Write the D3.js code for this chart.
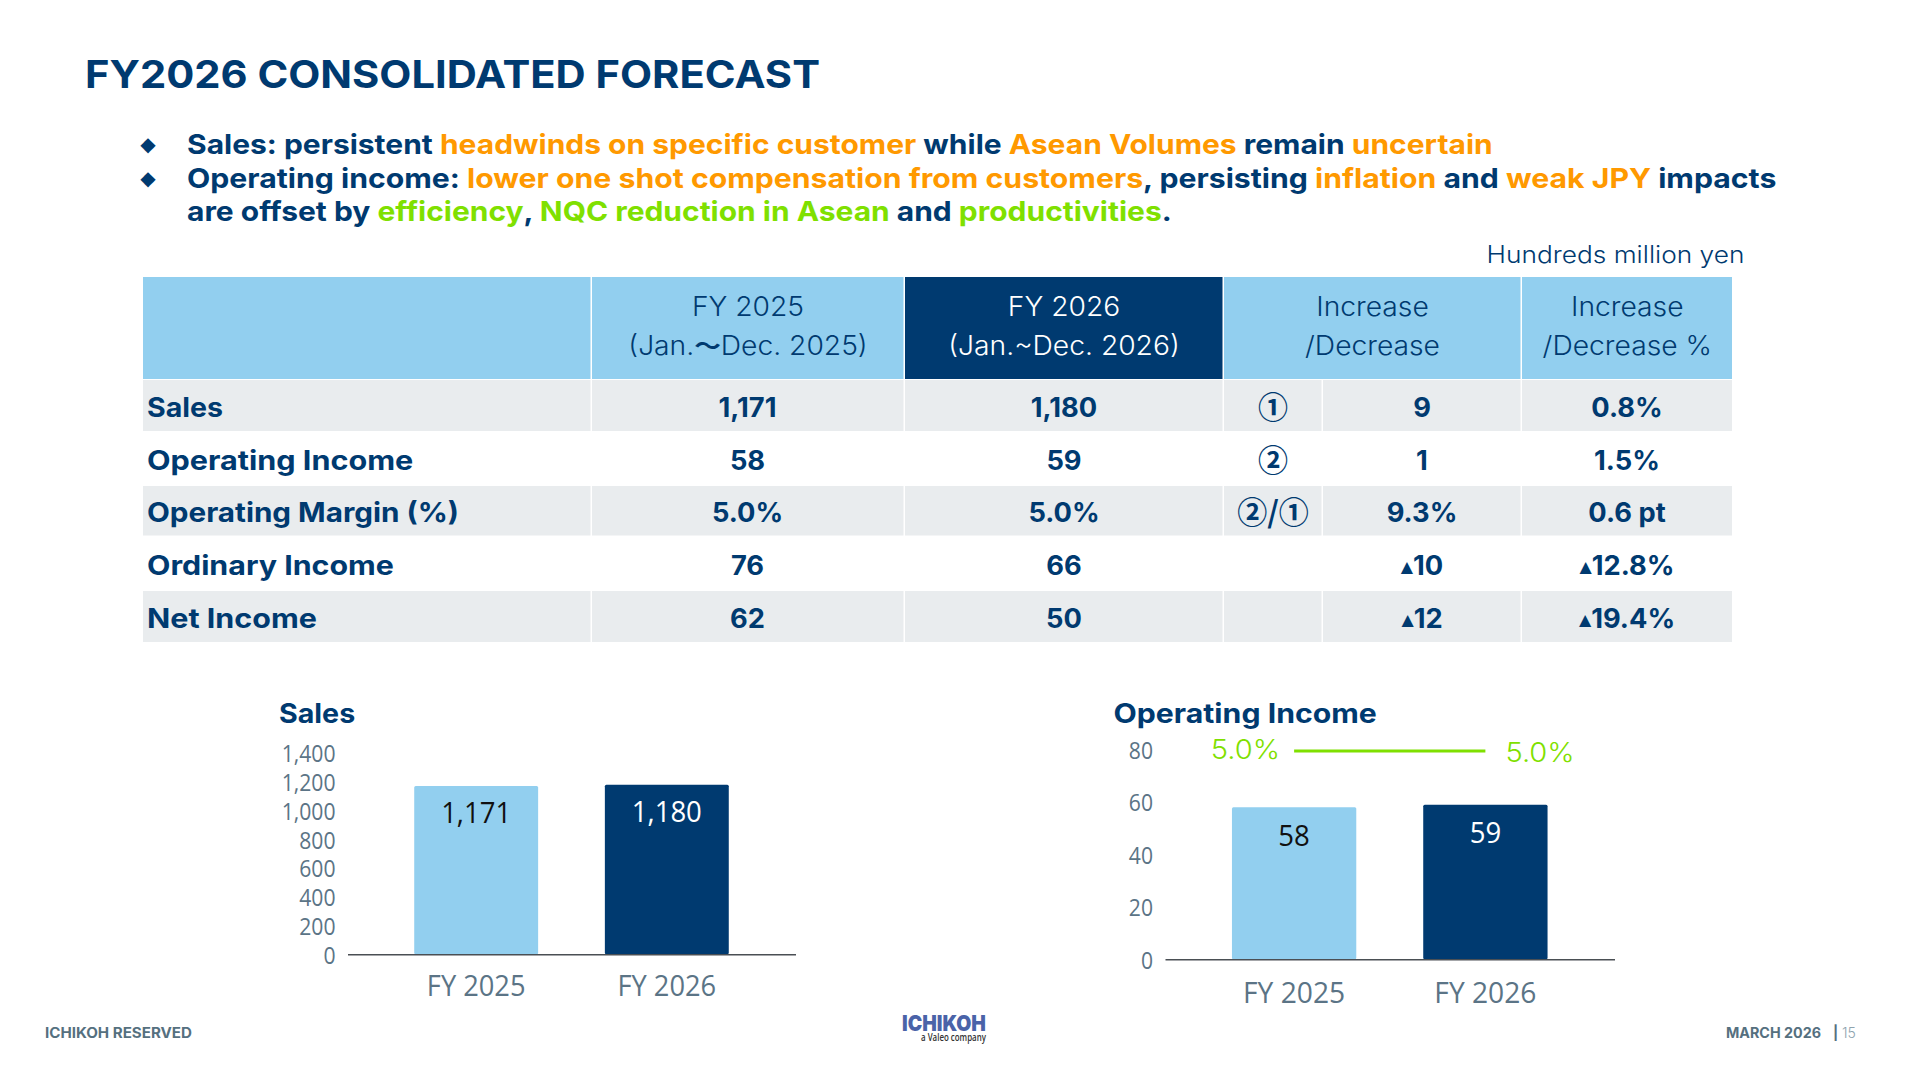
<!DOCTYPE html>
<html>
<head>
  <meta charset="utf-8">
  <script src="https://d3js.org/d3.v7.min.js"></script>
  <style>
    html, body { margin: 0; padding: 0; background: #fff; }
    svg { display: block; }
    text { font-family: Inter, "Noto Sans", sans-serif; }
  </style>
</head>
<body>
  <div id="my_dataviz"></div>
<script>

  // table content
  var rowLabels = ["Sales", "Operating Income", "Operating Margin (%)", "Ordinary Income", "Net Income"];
  var fy2025Cells = ["1,171", "58", "5.0%", "76", "62"];
  var fy2026Cells = ["1,180", "59", "5.0%", "66", "50"];
  var refMarks = ["①", "②", "②/①", "", ""];
  var changeCells = ["9", "1", "9.3%", "▲10", "▲12"];
  var changePctCells = ["0.8%", "1.5%", "0.6 pt", "▲12.8%", "▲19.4%"];

  // chart data
  var years = ["FY 2025", "FY 2026"];
  var salesValues = [1171, 1180];
  var incomeValues = [58, 59];
  var marginValues = [5.0, 5.0];
  var salesTicks = [0, 200, 400, 600, 800, 1000, 1200, 1400];
  var incomeTicks = [0, 20, 40, 60, 80];

  var navy = "#003a70", sky = "#92cfef", grey = "#e9ecee", orange = "#ff9900",
      green = "#7fe000", axisText = "#5b7486";

  var svg = d3.select("#my_dataviz")
    .append("svg")
      .attr("width", 1916)
      .attr("height", 1080);

  // put text at x,y and stretch it horizontally, Montserrat runs wider than Inter
  function label(parent, str, x, y, size, weight, color, anchor, sx) {
    var t = parent.append("text")
      .attr("transform", "translate(" + x + "," + y + ") scale(" + (sx || 1) + ",1)")
      .attr("dy", "0.36em")
      .attr("text-anchor", anchor || "start")
      .attr("font-size", size)
      .attr("font-weight", weight)
      .attr("fill", color);
    if (str != null) t.text(str);
    return t;
  }

  // stretch an already drawn text so that it is exactly w wide
  function fitWidth(t, x, y, w) {
    var len = t.node().getComputedTextLength();
    t.attr("transform", "translate(" + x + "," + y + ") scale(" + (w / len) + ",1)");
    return t;
  }

  // title
  fitWidth(label(svg, "FY2026 CONSOLIDATED FORECAST", 85, 74, 38.5, 700, navy), 85, 74, 735);

  // bullets
  var bulletLines = [
    [["Sales: persistent ", navy], ["headwinds on specific customer", orange], [" while ", navy],
     ["Asean Volumes", orange], [" remain ", navy], ["uncertain", orange]],
    [["Operating income: ", navy], ["lower one shot compensation from customers", orange], [", persisting ", navy],
     ["inflation", orange], [" and ", navy], ["weak JPY", orange], [" impacts", navy]],
    [["are offset by ", navy], ["efficiency", green], [", ", navy], ["NQC reduction in Asean", green],
     [" and ", navy], ["productivities", green], [".", navy]]
  ];
  var bulletY = [144, 178, 211.5], bulletW = [1306, 1590, 984];
  bulletLines.forEach(function(line, i) {
    var t = label(svg, null, 187, bulletY[i], 27.5, 700, navy);
    t.attr("xml:space", "preserve").style("white-space", "pre");
    line.forEach(function(s) { t.append("tspan").attr("fill", s[1]).text(s[0]); });
    fitWidth(t, 187, bulletY[i], bulletW[i]);
    if (i < 2) {
      svg.append("text")
        .attr("x", 148).attr("y", bulletY[i]).attr("dy", "0.36em")
        .attr("text-anchor", "middle")
        .attr("font-size", 20)
        .style("font-family", "'DejaVu Sans'")
        .attr("fill", navy)
        .text("◆");
    }
  });

  fitWidth(label(svg, "Hundreds million yen", 1486.5, 254, 24, 300, navy), 1486.5, 254, 258);

  // ------ table ------
  var colX = [143, 592, 905, 1224, 1323, 1522, 1733.5];
  var rowY = [380, 432, 486, 536.5, 591, 643];
  var headTop = 277, headBottom = 379;
  var table = svg.append("g");

  // header blocks
  var headers = [
    {x0: colX[0], x1: colX[1], fill: sky, color: navy, lines: []},
    {x0: colX[1], x1: colX[2], fill: sky, color: navy, lines: ["FY 2025", "(Jan.～Dec. 2025)"]},
    {x0: colX[2], x1: colX[3], fill: navy, color: "#fff", lines: ["FY 2026", "(Jan.~Dec. 2026)"]},
    {x0: colX[3], x1: colX[5], fill: sky, color: navy, lines: ["Increase", "/Decrease"]},
    {x0: colX[5], x1: colX[6], fill: sky, color: navy, lines: ["Increase", "/Decrease %"]}
  ];
  table.selectAll(".head")
    .data(headers)
    .join("rect")
      .attr("class", "head")
      .attr("x", function(d) { return d.x0; })
      .attr("y", headTop)
      .attr("width", function(d) { return d.x1 - d.x0 - 1.5; })
      .attr("height", headBottom - headTop)
      .attr("fill", function(d) { return d.fill; });
  headers.forEach(function(h) {
    h.lines.forEach(function(str, i) {
      var cx = (h.x0 + h.x1) / 2 - 0.5;
      var t = label(table, null, cx, i == 0 ? 306.5 : 345.5, 26.5, 300, h.color, "middle", 1.065);
      // the wide tilde only exists in the CJK font
      str.split(/(～)/).forEach(function(part) {
        var s = t.append("tspan").text(part);
        if (part == "～") s.style("font-family", "'Noto Sans CJK JP'").attr("font-size", 25).attr("font-weight", 700);
      });
    });
  });

  // grey bands on odd rows
  var bandIdx = [0, 2, 4];
  bandIdx.forEach(function(r) {
    table.selectAll(null)
      .data([0, 1, 2, 3, 4, 5])
      .join("rect")
        .attr("x", function(c) { return colX[c]; })
        .attr("y", rowY[r])
        .attr("width", function(c) { return colX[c + 1] - colX[c] - 1.5; })
        .attr("height", rowY[r + 1] - rowY[r] - 1)
        .attr("fill", grey);
  });

  var rowCenter = [407.2, 460.2, 512.2, 565.2, 618.2];
  var rowLabelW = [76, 266.5, 312, 247, 170];
  var valueCols = [
    {cx: 747.5, cells: fy2025Cells},
    {cx: 1064, cells: fy2026Cells},
    {cx: 1422, cells: changeCells},
    {cx: 1627, cells: changePctCells}
  ];

  rowLabels.forEach(function(str, i) {
    fitWidth(label(table, str, 147, rowCenter[i], 27, 700, navy), 147, rowCenter[i], rowLabelW[i]);
  });
  valueCols.forEach(function(col) {
    col.cells.forEach(function(str, i) {
      var t = label(table, null, col.cx, rowCenter[i], 26.5, 700, navy, "middle", 1.03);
      if (str[0] == "▲") {
        // tspan dy replaces the 0.36em of the parent, so it is counted in here
        t.append("tspan").attr("font-size", 15.5).attr("dy", 6.5)
          .style("font-family", "'DejaVu Sans'").text("▲");
        t.append("tspan").attr("dy", 3).text(str.slice(1));
      } else {
        t.text(str);
      }
    });
  });
  refMarks.forEach(function(str, i) {
    if (str) label(table, str, 1273, rowCenter[i], 30, 700, navy, "middle")
      .style("font-family", "'Noto Sans CJK JP'");
  });

  // ------ bar charts ------
  function barChart(opts) {
    var g = svg.append("g");

    var x = d3.scaleBand()
      .domain(years)
      .range(opts.xRange)
      .padding(0.35);
    var y = d3.scaleLinear()
      .domain(opts.yDomain)
      .range(opts.yRange);

    label(g, opts.title, opts.titleX, 713, 27, 700, navy, "start", opts.titleSx);

    g.selectAll("rect")
      .data(opts.values)
      .join("rect")
        .attr("x", function(d, i) { return x(years[i]); })
        .attr("y", function(d) { return y(d); })
        .attr("width", x.bandwidth())
        .attr("height", function(d) { return y(0) - y(d); })
        .attr("rx", 1.5)
        .attr("fill", function(d, i) { return i == 0 ? sky : navy; });

    // chart labels came out of a narrower font, so squeeze Open Sans a bit
    g.selectAll(".barlabel")
      .data(opts.values)
      .join("text")
        .attr("class", "barlabel")
        .attr("transform", function(d, i) {
          return "translate(" + (x(years[i]) + x.bandwidth() / 2) + "," + (y(d) + opts.labelOffset) + ") scale(0.95,1)";
        })
        .attr("dy", "0.36em")
        .attr("text-anchor", "middle")
        .attr("font-size", 29)
        .style("font-family", "'Open Sans'")
        .attr("fill", function(d, i) { return i == 0 ? "#111" : "#fff"; })
        .text(opts.format);

    // Y axis
    var yAxis = g.append("g")
      .attr("transform", "translate(" + (opts.xRange[0] - 12) + ",0)")
      .call(d3.axisLeft(y).tickValues(opts.ticks).tickSize(0).tickPadding(0).tickFormat(opts.format));
    yAxis.select(".domain").remove();
    yAxis.selectAll("text")
      .attr("dy", "0.38em")
      .attr("transform", "scale(0.92,1)")
      .attr("font-size", 23)
      .style("font-family", "'Open Sans'")
      .attr("fill", axisText);

    // X axis
    var xAxis = g.append("g")
      .attr("transform", "translate(0," + y(0) + ")")
      .call(d3.axisBottom(x).tickSize(0).tickPadding(0));
    xAxis.select(".domain")
      .attr("stroke", "#4a4f54")
      .attr("stroke-width", 1.5);
    xAxis.selectAll("text")
      .attr("y", opts.catY - y(0))
      .attr("dy", "0.36em")
      .attr("transform", "scale(0.94,1)")
      .attr("font-size", opts.catSize)
      .style("font-family", "'Open Sans'")
      .attr("fill", axisText);

    return {g: g, x: x, y: y};
  }

  var fmt = d3.format(",");

  barChart({
    title: "Sales", titleX: 279, titleSx: 1.06,
    xRange: [347.5, 795.5], yDomain: [0, 1400], yRange: [954.3, 753],
    values: salesValues, ticks: salesTicks, format: fmt,
    labelOffset: 27, catY: 986, catSize: 29
  });

  var income = barChart({
    title: "Operating Income", titleX: 1113.5, titleSx: 1.12,
    xRange: [1165, 1614.5], yDomain: [0, 80], yRange: [959.3, 749.6],
    values: incomeValues, ticks: incomeTicks, format: fmt,
    labelOffset: 28, catY: 992, catSize: 30
  });

  // operating margin line, on its own hidden scale
  var yMargin = d3.scaleLinear().domain([0, 10]).range([1100, 402]);
  var lineX = function(d, i) { return income.x(years[i]) + income.x.bandwidth() / 2; };

  income.g.append("path")
    .datum(marginValues)
    .attr("fill", "none")
    .attr("stroke", green)
    .attr("stroke-width", 3)
    .attr("d", d3.line().x(lineX).y(function(d) { return yMargin(d); }));

  income.g.selectAll(".marginlabel")
    .data(marginValues)
    .join("text")
      .attr("class", "marginlabel")
      .attr("transform", function(d, i) {
        var px = lineX(d, i) + (i == 0 ? -14 : 20);
        var py = yMargin(d) + (i == 0 ? -2 : 1);
        return "translate(" + px + "," + py + ") scale(1.1,1)";
      })
      .attr("dy", "0.36em")
      .attr("text-anchor", function(d, i) { return i == 0 ? "end" : "start"; })
      .attr("font-size", 26.5)
      .attr("font-weight", 300)
      .attr("fill", green)
      .text(function(d) { return d.toFixed(1) + "%"; });

  // ------ footer ------
  var footColor = "#55707f";
  fitWidth(label(svg, "ICHIKOH RESERVED", 45, 1033, 14, 700, footColor), 45, 1033, 147);
  fitWidth(label(svg, "MARCH 2026", 1726, 1033, 14, 700, footColor), 1726, 1033, 95);
  label(svg, "|", 1833, 1033, 14, 700, footColor);
  label(svg, "15", 1842, 1033, 14, 300, "#8fa3ae");

  // logo
  fitWidth(label(svg, "ICHIKOH", 902, 1023, 22, 900, "#4a63a8"), 902, 1023, 84);
  fitWidth(label(svg, "a Valeo company", 921, 1037, 10.5, 600, "#333").style("font-family", "'Open Sans'"), 921, 1037, 65);

</script>
</body>
</html>
